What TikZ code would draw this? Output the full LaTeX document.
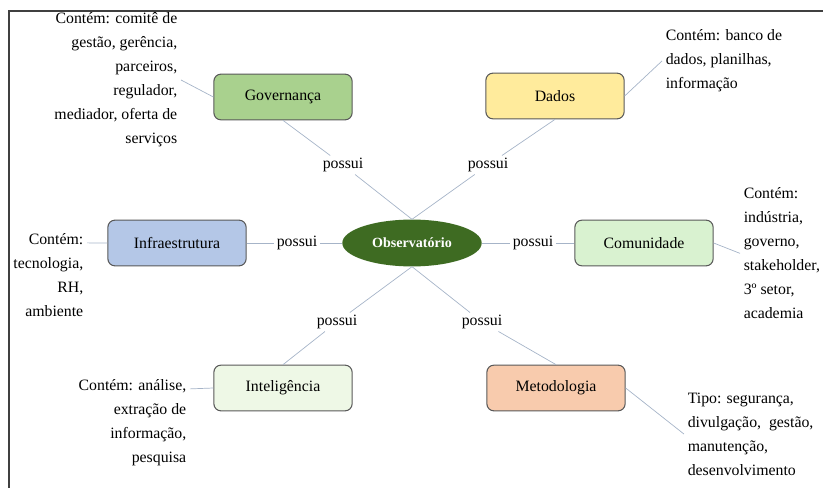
\documentclass[tikz,border=0pt]{standalone}
\usepackage{fontspec}
\setmainfont{Liberation Serif}
\usetikzlibrary{shapes.geometric}

\definecolor{verdeobs}{HTML}{3E6B22}
\definecolor{verdegov}{HTML}{A9D18E}
\definecolor{amarelodados}{HTML}{FFEB9C}
\definecolor{azulinfra}{HTML}{B4C7E7}
\definecolor{verdecom}{HTML}{D9F2D0}
\definecolor{verdeint}{HTML}{EEF8E6}
\definecolor{salmaometo}{HTML}{F8CBAD}
\definecolor{linhacinza}{HTML}{A6B4C8}

\begin{document}
\begin{tikzpicture}[x=0.03cm, y=-0.03cm, font=\fontsize{13.5}{20.5}\selectfont,
	caixa/.style={draw=black!65, line width=0.9pt, rounded corners=6pt, minimum width=118pt, minimum height=39pt},
	nota/.style={inner sep=3pt},
	rotulo/.style={inner sep=2pt, font=\fontsize{13.5}{18}\selectfont},
	ligacao/.style={draw=linhacinza, line width=0.6pt}] %Início do mapa e definição de escala e estilos
	\useasboundingbox (0,0) rectangle (823,488); %Margens da figura
	\draw[line width=1.6pt, black!75] (9,488) -- (9,11) -- (823,11); %Moldura
		%Nó central
	\node[ellipse, fill=verdeobs, text=white, minimum width=119pt, minimum height=40pt, font=\fontsize{12}{15}\bfseries] (obs) at (412,243) {Observatório}; %Observatório
		%Caixas
	\node[caixa, fill=verdegov] (gov) at (283,97) {Governança}; %Governança
	\node[caixa, fill=amarelodados] (dados) at (555,96) {Dados}; %Dados
	\node[caixa, fill=azulinfra] (infra) at (177,243) {Infraestrutura}; %Infraestrutura
	\node[caixa, fill=verdecom] (com) at (644,243) {Comunidade}; %Comunidade
	\node[caixa, fill=verdeint] (int) at (283,388) {Inteligência}; %Inteligência
	\node[caixa, fill=salmaometo] (meto) at (556,388) {Metodologia}; %Metodologia
		%Rótulos das ligações
	\node[rotulo] (possuiGov) at (343,165) {possui};
	\node[rotulo] (possuiDados) at (488,165) {possui};
	\node[rotulo] (possuiInfra) at (297,243) {possui};
	\node[rotulo] (possuiCom) at (533,243) {possui};
	\node[rotulo] (possuiInt) at (337,322) {possui};
	\node[rotulo] (possuiMeto) at (482,322) {possui};
		%Notas
	\node[nota, align=right, anchor=north east] (notaGov) at (181,9) {Contém: comitê de\\gestão, gerência,\\parceiros,\\regulador,\\mediador, oferta de\\serviços}; %Nota de Governança
	\node[nota, align=left, anchor=north west] (notaDados) at (662,26) {Contém: banco de\\dados, planilhas,\\informação}; %Nota de Dados
	\node[nota, align=right, anchor=north east] (notaInfra) at (87,230) {Contém:\\tecnologia,\\RH,\\ambiente}; %Nota de Infraestrutura
	\node[nota, align=left, anchor=north west] (notaCom) at (740,184) {Contém:\\indústria,\\governo,\\stakeholder,\\3º setor,\\academia}; %Nota de Comunidade
	\node[nota, align=right, anchor=north east] (notaInt) at (190,376) {Contém: análise,\\extração de\\informação,\\pesquisa}; %Nota de Inteligência
	\node[nota, align=left, anchor=north west] (notaMeto) at (684,389) {Tipo: segurança,\\divulgação,\ \ gestão,\\manutenção,\\desenvolvimento}; %Nota de Metodologia
		%Ligações
	\draw[ligacao] (gov.south) -- (possuiGov) -- (obs.north);
	\draw[ligacao] (dados.south) -- (possuiDados) -- (obs.north);
	\draw[ligacao] (infra.east) -- (possuiInfra) -- (obs.west);
	\draw[ligacao] (obs.east) -- (possuiCom) -- (com.west);
	\draw[ligacao] (int.north) -- (possuiInt) -- (obs.south);
	\draw[ligacao] (meto.north) -- (possuiMeto) -- (obs.south);
	\draw[ligacao] (notaGov.east) -- (gov.west);
	\draw[ligacao] (dados.east) -- (notaDados.west);
	\draw[ligacao] ([yshift=-11pt]notaInfra.north east) -- (infra.west);
	\draw[ligacao] (com.east) -- (notaCom.west);
	\draw[ligacao] ([yshift=-11pt]notaInt.north east) -- (int.west);
	\draw[ligacao] (meto.east) -- (notaMeto.west);
\end{tikzpicture}
\end{document}
